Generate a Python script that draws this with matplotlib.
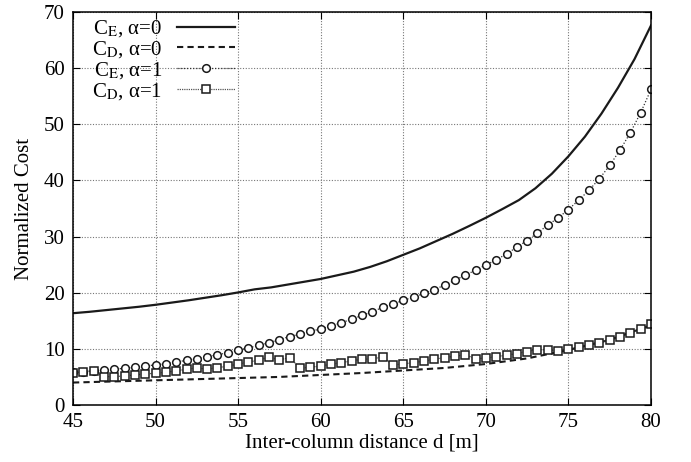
import matplotlib
matplotlib.use('Agg')
import matplotlib.pyplot as plt
import numpy as np

plt.rcParams['font.family'] = ['Liberation Serif', 'DejaVu Serif']
plt.rcParams['mathtext.fontset'] = 'stix'

# x grid of the marker series (step 0.625 m)
d_markers = np.linspace(45, 80, 57)

# C_E, alpha=1 (circles)
ce_alpha1 = [5.8, 5.95, 6.1, 6.25, 6.37, 6.55, 6.73, 6.96, 7.14, 7.38,
             7.62, 7.98, 8.27, 8.63, 8.93, 9.35, 9.76, 10.18, 10.6, 11.1,
             11.65, 12.2, 12.62, 13.1, 13.57, 14.1, 14.64, 15.3, 15.95, 16.63,
             17.38, 17.97, 18.65, 19.2, 19.88, 20.54, 21.37, 22.2, 23.15, 23.99,
             24.97, 25.83, 26.93, 28.1, 29.3, 30.63, 32.05, 33.33, 34.82, 36.49,
             38.27, 40.3, 42.68, 45.42, 48.5, 52.08, 56.2]

# C_D, alpha=1 (squares)
cd_alpha1 = [5.77, 5.89, 6.07, 5.06, 5.06, 5.18, 5.36, 5.54, 5.65, 5.83,
             6.07, 6.37, 6.61, 6.37, 6.67, 6.9, 7.32, 7.62, 8.04, 8.51,
             8.04, 8.45, 6.55, 6.73, 6.96, 7.26, 7.56, 7.86, 8.15, 8.21,
             8.57, 7.14, 7.32, 7.56, 7.8, 8.15, 8.45, 8.69, 8.93, 8.27,
             8.33, 8.63, 8.87, 9.17, 9.52, 9.88, 9.82, 9.64, 10.0, 10.36,
             10.65, 11.13, 11.61, 12.14, 12.8, 13.51, 14.35]

# C_E, alpha=0 (solid line), 1 m steps
d_ce = np.arange(45, 81)
ce_alpha0 = [16.35, 16.6, 16.9, 17.2, 17.5, 17.85, 18.25, 18.65, 19.1, 19.55,
             20.05, 20.6, 20.95, 21.45, 21.95, 22.45, 23.1, 23.75, 24.6, 25.6,
             26.75, 27.9, 29.2, 30.5, 31.9, 33.35, 34.9, 36.5, 38.6, 41.2,
             44.3, 47.8, 51.9, 56.5, 61.6, 67.6]

# C_D, alpha=0 (dashed line), 2.5 m steps
d_cd = np.arange(45, 80.1, 2.5)
cd_alpha0 = [4.0, 4.2, 4.4, 4.6, 4.8, 5.0, 5.35, 5.7, 6.15, 6.6, 7.3, 8.3, 9.8, 11.6, 14.2]

fig = plt.figure(figsize=(6.91, 4.62), dpi=100)
ax = fig.add_axes([73 / 691, 1 - 405 / 462, 578 / 691, 393 / 462])

ax.plot(d_ce, ce_alpha0, color='#1a1a1a', lw=1.6, label=r'C$_{\mathrm{E}}$, α=0')
ax.plot(d_cd, cd_alpha0, color='#1a1a1a', lw=1.5, ls=(0, (3, 2)), label=r'C$_{\mathrm{D}}$, α=0')
ax.plot(d_markers, ce_alpha1, color='#333333', lw=0.9, ls=(0, (1, 1.5)), marker='o', markersize=5.5,
        markerfacecolor='white', markeredgecolor='#1a1a1a', markeredgewidth=1.1, label=r'C$_{\mathrm{E}}$, α=1')
ax.plot(d_markers, cd_alpha1, color='#555555', lw=0.9, ls=(0, (1, 0.8)), marker='s', markersize=5.5,
        markerfacecolor='white', markeredgecolor='#1a1a1a', markeredgewidth=1.1, label=r'C$_{\mathrm{D}}$, α=1')

ax.set_xlim(45, 80)
ax.set_ylim(0, 70)
ax.set_xticks(np.arange(45, 81, 5))
ax.set_yticks(np.arange(0, 71, 10))
ax.grid(True, color='#777777', ls=(0, (1, 1.5)), lw=0.8)
ax.tick_params(direction='in', top=True, right=True, labelsize=15, length=5, pad=6)
for s in ax.spines.values():
    s.set_linewidth(1.1)

ax.set_xlabel('Inter-column distance d [m]', fontsize=15, labelpad=1)
ax.set_ylabel('Normalized Cost', fontsize=15, labelpad=7)

leg = ax.legend(loc='upper left', frameon=False, markerfirst=False, fontsize=15, numpoints=1,
                handlelength=2.8, labelspacing=0.0, borderaxespad=0.0, handletextpad=0.7,
                bbox_to_anchor=(0.018, 1.005))

fig.savefig('out.png', dpi=100)
